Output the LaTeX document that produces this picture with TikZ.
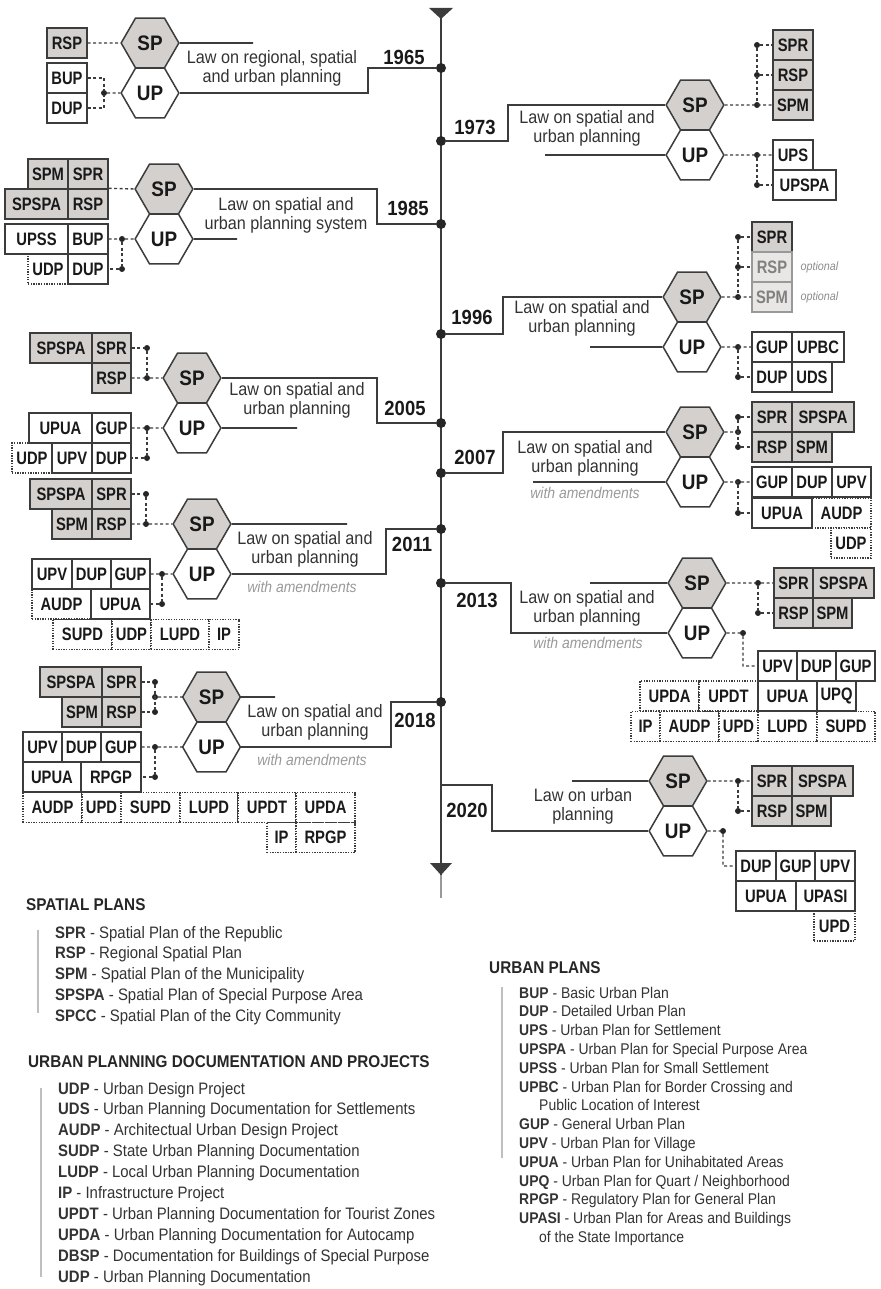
\documentclass[tikz,border=0pt]{standalone}
\usepackage{fontspec}
\setmainfont{Liberation Sans}[FakeStretch=0.9]
\newfontfamily\boxfam{Liberation Sans}[FakeStretch=0.82]
\usetikzlibrary{shapes.geometric}
\definecolor{spgrey}{RGB}{212,208,206}
\definecolor{optgrey}{RGB}{233,231,230}
\definecolor{ink}{RGB}{60,60,60}
\newcommand\bxf{\boxfam\bfseries\fontsize{18}{19}\selectfont}
\newcommand\hxf{\bfseries\fontsize{21}{22}\selectfont}
\newcommand\yrf{\bfseries\fontsize{20.5}{22}\selectfont}
\newcommand\lwf{\fontsize{18}{19}\selectfont}
\newcommand\amf{\itshape\fontsize{15.5}{17}\selectfont}
\newcommand\opf{\itshape\fontsize{12}{13}\selectfont}
\newcommand\lgf{\fontsize{16.6}{18}\selectfont}
\newcommand\lrf{\fontsize{15.5}{17}\selectfont}
\newcommand\lhf{\bfseries\fontsize{17}{18}\selectfont}
\tikzset{
  spbox/.style={draw=ink, fill=spgrey, line width=1.4pt, minimum width=40pt,
    minimum height=30pt, inner sep=0pt, font=\bxf, text=black!90},
  upbox/.style={spbox, fill=white},
  optbox/.style={spbox, fill=optgrey, draw=black!40, text=black!50},
  docbox/.style={upbox, dash pattern=on 1.3pt off 1.3pt, line width=1.2pt},
  hexa/.style={regular polygon, regular polygon sides=6, minimum size=57.7pt,
    inner sep=0pt, draw=ink, line width=1.5pt, font=\hxf, text=black!90},
  sphex/.style={hexa, fill=spgrey},
  uphex/.style={hexa, fill=white},
  tline/.style={draw=ink, line width=2.2pt},
  law/.style={draw=ink, line width=1.7pt},
  dline/.style={draw=ink, line width=1.4pt, dash pattern=on 3pt off 2.5pt},
  jdot/.style={circle, fill=black!85, inner sep=0pt, minimum size=6pt},
  tdot/.style={circle, fill=black!85, inner sep=0pt, minimum size=10pt},
  year/.style={font=\yrf, text=black!90},
  lawtxt/.style={font=\lwf, align=center, text=black!80},
  amend/.style={font=\amf, text=black!40},
  optlbl/.style={font=\opf, text=black!45, anchor=west},
  lhead/.style={font=\lhf, text=black!85, anchor=west, inner sep=0pt},
  lgent/.style={font=\lgf, text=black!80, anchor=base west, inner sep=0pt},
  lrent/.style={font=\lrf, text=black!80, anchor=base west, inner sep=0pt},
  lbar/.style={draw=black!25, line width=1.5pt}
}
\begin{document}
\begin{tikzpicture}[x=1pt, y=-1pt]
  \useasboundingbox (0,0) rectangle (880,1289);
  % time axis
  \draw[tline] (441,8) -- (441,875);
  \draw[black!40, line width=1.6pt] (441,875) -- (441,898);
  \fill[ink] (429,8) -- (453,8) -- (441,19) -- cycle;
  \fill[ink] (430,863) -- (452,863) -- (441,875) -- cycle;
  \node[tdot] (d65) at (441,68) {};
  \node[tdot] (d73) at (441,141) {};
  \node[tdot] (d85) at (441,224) {};
  \node[tdot] (d96) at (441,334) {};
  \node[tdot] (d05) at (441,423) {};
  \node[tdot] (d07) at (441,473) {};
  \node[tdot] (d11) at (441,529) {};
  \node[tdot] (d13) at (441,583) {};
  \node[tdot] (d18) at (441,702) {};
  \coordinate (d20) at (441,785);

  % 1965
  \node[sphex] (sp65) at (150,43) {SP};
  \node[uphex] (up65) at (150,93) {UP};
  \node[spbox] (rsp65) at (67,43) {RSP};
  \node[upbox] (bup65) at (67,78) {BUP};
  \node[upbox] (dup65) at (67,108) {DUP};
  \node[jdot] (j65) at (104,93) {};
  \draw[dline] (rsp65.east) -- (sp65.west);
  \draw[dline] (bup65.east) -| (j65);
  \draw[dline] (dup65.east) -| (j65);
  \draw[dline] (j65) -- (up65.west);
  \coordinate (f65) at (253,43);
  \draw[law] (sp65.east) -- (f65);
  \coordinate (k65) at (368,68);
  \draw[law] (up65.east) -| (k65) -- (d65);
  \node[year] (y65) at (404,57) {1965};
  \node[lawtxt] (l65) at (272,68) {Law on regional, spatial\\and urban planning};

  % 1973
  \node[sphex] (sp73) at (695,105) {SP};
  \node[uphex] (up73) at (695,155) {UP};
  \node[spbox] (spr73) at (793,45) {SPR};
  \node[spbox] (rsp73) at (793,75) {RSP};
  \node[spbox] (spm73) at (793,105) {SPM};
  \node[upbox] (ups73) at (793,155) {UPS};
  \node[upbox, minimum width=63pt] (upspa73) at (804.5,185) {UPSPA};
  \node[jdot] (ja73) at (757,45) {};
  \node[jdot] (jb73) at (757,75) {};
  \node[jdot] (jc73) at (757,105) {};
  \node[jdot] (jd73) at (757,155) {};
  \node[jdot] (je73) at (757,185) {};
  \draw[dline] (ja73) -- (spr73.west);
  \draw[dline] (jb73) -- (rsp73.west);
  \draw[dline] (ja73) -- (jc73);
  \draw[dline] (sp73.east) -- (spm73.west);
  \draw[dline] (up73.east) -- (ups73.west);
  \draw[dline] (jd73) -- (je73) -- (upspa73.west);
  \coordinate (f73) at (545,155);
  \draw[law] (f73) -- (up73.west);
  \coordinate (k73) at (508,141);
  \draw[law] (d73) -- (k73) |- (sp73.west);
  \node[year] (y73) at (475,127) {1973};
  \node[lawtxt] (l73) at (587,128) {Law on spatial and\\urban planning};

  % 1985
  \node[sphex] (sp85) at (164,189) {SP};
  \node[uphex] (up85) at (164,239) {UP};
  \node[spbox] (spm85) at (48,174) {SPM};
  \node[spbox] (spr85) at (88,174) {SPR};
  \node[spbox, minimum width=63pt] (spspa85) at (36.5,204) {SPSPA};
  \node[spbox] (rsp85) at (88,204) {RSP};
  \node[docbox] (udp85) at (48,269) {UDP};
  \node[upbox, minimum width=63pt] (upss85) at (36.5,239) {UPSS};
  \node[upbox] (bup85) at (88,239) {BUP};
  \node[upbox] (dup85) at (88,269) {DUP};
  \node[jdot] (ja85) at (122,239) {};
  \node[jdot] (jb85) at (122,269) {};
  \draw[dline] (rsp85.north east) -- (sp85.west);
  \draw[dline] (bup85.east) -- (ja85) -- (up85.west);
  \draw[dline] (ja85) -- (jb85) -- (dup85.east);
  \coordinate (f85) at (237,239);
  \draw[law] (up85.east) -- (f85);
  \coordinate (k85) at (377,224);
  \draw[law] (sp85.east) -| (k85) -- (d85);
  \node[year] (y85) at (408,208) {1985};
  \node[lawtxt] (l85) at (286,215) {Law on spatial and\\urban planning system};

  % 1996
  \node[sphex] (sp96) at (692,297) {SP};
  \node[uphex] (up96) at (692,347) {UP};
  \node[spbox] (spr96) at (772,237) {SPR};
  \node[optbox] (rsp96) at (772,267) {RSP};
  \node[optbox] (spm96) at (772,297) {SPM};
  \node[optlbl] (oa96) at (797,267) {optional};
  \node[optlbl] (ob96) at (797,297) {optional};
  \node[upbox] (gup96) at (772,347) {GUP};
  \node[upbox, minimum width=52pt] (upbc96) at (818,347) {UPBC};
  \node[upbox] (dup96) at (772,377) {DUP};
  \node[upbox] (uds96) at (812,377) {UDS};
  \node[jdot] (ja96) at (738,237) {};
  \node[jdot] (jb96) at (738,267) {};
  \node[jdot] (jc96) at (738,297) {};
  \node[jdot] (jd96) at (738,347) {};
  \node[jdot] (je96) at (738,377) {};
  \draw[dline] (ja96) -- (spr96.west);
  \draw[dline] (jb96) -- (rsp96.west);
  \draw[dline] (ja96) -- (jc96);
  \draw[dline] (sp96.east) -- (spm96.west);
  \draw[dline] (up96.east) -- (gup96.west);
  \draw[dline] (jd96) -- (je96) -- (dup96.west);
  \coordinate (f96) at (590,347);
  \draw[law] (f96) -- (up96.west);
  \coordinate (k96) at (503,334);
  \draw[law] (d96) -- (k96) |- (sp96.west);
  \node[year] (y96) at (472,317) {1996};
  \node[lawtxt] (l96) at (582,318) {Law on spatial and\\urban planning};

  % 2005
  \node[sphex] (sp05) at (192,378) {SP};
  \node[uphex] (up05) at (192,428) {UP};
  \node[spbox, minimum width=62pt] (spspa05) at (61,348) {SPSPA};
  \node[spbox, minimum width=39pt] (spr05) at (111.5,348) {SPR};
  \node[spbox, minimum width=39pt] (rsp05) at (111.5,378) {RSP};
  \node[docbox] (udp05) at (32,458) {UDP};
  \node[upbox, minimum width=63pt] (upua05) at (60.5,428) {UPUA};
  \node[upbox, minimum width=39pt] (gup05) at (111.5,428) {GUP};
  \node[upbox] (upv05) at (72,458) {UPV};
  \node[upbox, minimum width=39pt] (dup05) at (111.5,458) {DUP};
  \node[jdot] (ja05) at (147,348) {};
  \node[jdot] (jb05) at (147,378) {};
  \node[jdot] (jc05) at (147,428) {};
  \node[jdot] (jd05) at (147,458) {};
  \draw[dline] (spr05.east) -- (ja05) -- (jb05);
  \draw[dline] (rsp05.east) -- (jb05) -- (sp05.west);
  \draw[dline] (gup05.east) -- (jc05) -- (up05.west);
  \draw[dline] (jc05) -- (jd05) -- (dup05.east);
  \coordinate (f05) at (297,428);
  \draw[law] (up05.east) -- (f05);
  \coordinate (k05) at (377,423);
  \draw[law] (sp05.east) -| (k05) -- (d05);
  \node[year] (y05) at (405,408) {2005};
  \node[lawtxt] (l05) at (297,400) {Law on spatial and\\urban planning};

  % 2007
  \node[sphex] (sp07) at (695,432) {SP};
  \node[uphex] (up07) at (695,482) {UP};
  \node[spbox] (spr07) at (772,417) {SPR};
  \node[spbox, minimum width=62pt] (spspa07) at (823,417) {SPSPA};
  \node[spbox] (rsp07) at (772,447) {RSP};
  \node[spbox] (spm07) at (812,447) {SPM};
  \node[docbox, minimum width=59pt] (audp07) at (841.5,513) {AUDP};
  \node[docbox] (udp07) at (851,543) {UDP};
  \node[upbox] (gup07) at (772,482) {GUP};
  \node[upbox] (dup07) at (812,482) {DUP};
  \node[upbox, minimum width=39pt] (upv07) at (851.5,482) {UPV};
  \node[upbox, minimum width=60pt] (upua07) at (782,513) {UPUA};
  \node[jdot] (ja07) at (738,417) {};
  \node[jdot] (jb07) at (738,432) {};
  \node[jdot] (jc07) at (738,447) {};
  \node[jdot] (jd07) at (738,482) {};
  \node[jdot] (je07) at (738,513) {};
  \draw[dline] (ja07) -- (spr07.west);
  \draw[dline] (ja07) -- (jc07) -- (rsp07.west);
  \draw[dline] (sp07.east) -- (jb07);
  \draw[dline] (up07.east) -- (gup07.west);
  \draw[dline] (jd07) -- (je07) -- (upua07.west);
  \coordinate (f07) at (533,482);
  \draw[law] (f07) -- (up07.west);
  \coordinate (k07) at (503,473);
  \draw[law] (d07) -- (k07) |- (sp07.west);
  \node[year] (y07) at (475,457) {2007};
  \node[lawtxt] (l07) at (585,458) {Law on spatial and\\urban planning};
  \node[amend] (a07) at (585,493) {with amendments};

  % 2011
  \node[sphex] (sp11) at (202,524) {SP};
  \node[uphex] (up11) at (202,574) {UP};
  \node[spbox, minimum width=62pt] (spspa11) at (61,494) {SPSPA};
  \node[spbox, minimum width=39pt] (spr11) at (111.5,494) {SPR};
  \node[spbox] (spm11) at (72,524) {SPM};
  \node[spbox, minimum width=39pt] (rsp11) at (111.5,524) {RSP};
  \node[docbox, minimum width=59pt] (audp11) at (61.5,604) {AUDP};
  \node[docbox, minimum width=59pt] (supd11) at (82.5,634.5) {SUPD};
  \node[docbox, minimum width=39pt] (udp11) at (131.5,634.5) {UDP};
  \node[docbox, minimum width=58pt] (lupd11) at (180,634.5) {LUPD};
  \node[docbox, minimum width=30pt] (ip11) at (224,634.5) {IP};
  \node[upbox] (upv11) at (52,574) {UPV};
  \node[upbox, minimum width=39pt] (dup11) at (91.5,574) {DUP};
  \node[upbox, minimum width=39pt] (gup11) at (130.5,574) {GUP};
  \node[upbox, minimum width=59pt] (upua11) at (120.5,604) {UPUA};
  \node[jdot] (ja11) at (146,494) {};
  \node[jdot] (jb11) at (146,524) {};
  \node[jdot] (jc11) at (162,574) {};
  \node[jdot] (jd11) at (162,604) {};
  \draw[dline] (spr11.east) -- (ja11) -- (jb11);
  \draw[dline] (rsp11.east) -- (jb11) -- (sp11.west);
  \draw[dline] (gup11.east) -- (jc11) -- (up11.west);
  \draw[dline] (jc11) -- (jd11) -- (upua11.east);
  \coordinate (f11) at (347,524);
  \draw[law] (sp11.east) -- (f11);
  \coordinate (k11) at (386,529);
  \draw[law] (up11.east) -| (k11) -- (d11);
  \node[year] (y11) at (412,544) {2011};
  \node[lawtxt] (l11) at (305,549) {Law on spatial and\\urban planning};
  \node[amend] (a11) at (302,587) {with amendments};

  % 2013
  \node[sphex] (sp13) at (697,583) {SP};
  \node[uphex] (up13) at (697,633) {UP};
  \node[spbox, minimum width=39pt] (spr13) at (793.5,583) {SPR};
  \node[spbox, minimum width=61pt] (spspa13) at (843.5,583) {SPSPA};
  \node[spbox, minimum width=39pt] (rsp13) at (793.5,613) {RSP};
  \node[spbox, minimum width=39pt] (spm13) at (832.5,613) {SPM};
  \node[docbox, minimum width=59pt] (upda13) at (669.5,696) {UPDA};
  \node[docbox, minimum width=59pt] (updt13) at (728.5,696) {UPDT};
  \node[docbox, minimum width=29pt] (ip13) at (645.5,726.5) {IP};
  \node[docbox, minimum width=59pt] (audp13) at (689.5,726.5) {AUDP};
  \node[docbox, minimum width=39pt] (upd13) at (738.5,726.5) {UPD};
  \node[docbox, minimum width=59pt] (lupd13) at (787.5,726.5) {LUPD};
  \node[docbox, minimum width=58pt] (supd13) at (846,726.5) {SUPD};
  \node[upbox, minimum width=39pt] (upv13) at (777.5,666) {UPV};
  \node[upbox, minimum width=39pt] (dup13) at (816.5,666) {DUP};
  \node[upbox, minimum width=39pt] (gup13) at (855.5,666) {GUP};
  \node[upbox, minimum width=59pt] (upua13) at (787.5,696) {UPUA};
  \node[upbox, minimum width=39pt] (upq13) at (836.5,696) {UPQ};
  \node[jdot] (ja13) at (758,583) {};
  \node[jdot] (jb13) at (758,613) {};
  \node[jdot] (jc13) at (743,633) {};
  \coordinate (c13) at (743,666);
  \draw[dline] (sp13.east) -- (ja13) -- (spr13.west);
  \draw[dline] (ja13) -- (jb13) -- (rsp13.west);
  \draw[dline] (up13.east) -- (jc13) -- (c13) -- (upv13.west);
  \coordinate (f13) at (590,583);
  \draw[law] (f13) -- (sp13.west);
  \coordinate (k13) at (511,583);
  \draw[law] (d13) -- (k13) |- (up13.west);
  \node[year] (y13) at (477,600) {2013};
  \node[lawtxt] (l13) at (587,608) {Law on spatial and\\urban planning};
  \node[amend] (a13) at (588,643) {with amendments};

  % 2018
  \node[sphex] (sp18) at (211.5,697) {SP};
  \node[uphex] (up18) at (211.5,747) {UP};
  \node[spbox, minimum width=62pt] (spspa18) at (71,682) {SPSPA};
  \node[spbox, minimum width=39pt] (spr18) at (121.5,682) {SPR};
  \node[spbox] (spm18) at (82,712) {SPM};
  \node[spbox, minimum width=39pt] (rsp18) at (121.5,712) {RSP};
  \node[docbox, minimum width=59pt] (audp18) at (52.5,807.5) {AUDP};
  \node[docbox, minimum width=39pt] (upd18) at (101.5,807.5) {UPD};
  \node[docbox, minimum width=59pt] (supd18) at (150.5,807.5) {SUPD};
  \node[docbox, minimum width=58pt] (lupd18) at (209,807.5) {LUPD};
  \node[docbox, minimum width=58pt] (updt18) at (267,807.5) {UPDT};
  \node[docbox, minimum width=59pt] (upda18) at (325.5,807.5) {UPDA};
  \node[docbox, minimum width=29pt] (ip18) at (281.5,837.5) {IP};
  \node[docbox, minimum width=59pt] (rpgpb18) at (325.5,837.5) {RPGP};
  \node[upbox, minimum width=39pt] (upv18) at (42.5,747) {UPV};
  \node[upbox, minimum width=39pt] (dup18) at (81.5,747) {DUP};
  \node[upbox] (gup18) at (121,747) {GUP};
  \node[upbox, minimum width=58pt] (upua18) at (52,777) {UPUA};
  \node[upbox, minimum width=60pt] (rpgp18) at (111,777) {RPGP};
  \node[jdot] (ja18) at (155,682) {};
  \node[jdot] (jb18) at (155,697) {};
  \node[jdot] (jc18) at (155,712) {};
  \node[jdot] (jd18) at (155,747) {};
  \node[jdot] (je18) at (155,777) {};
  \draw[dline] (spr18.east) -- (ja18) -- (jc18);
  \draw[dline] (rsp18.east) -- (jc18);
  \draw[dline] (jb18) -- (sp18.west);
  \draw[dline] (gup18.east) -- (jd18) -- (up18.west);
  \draw[dline] (jd18) -- (je18) -- (rpgp18.east);
  \coordinate (f18) at (275,697);
  \draw[law] (sp18.east) -- (f18);
  \coordinate (k18) at (391,702);
  \draw[law] (up18.east) -| (k18) -- (d18);
  \node[year] (y18) at (415,720) {2018};
  \node[lawtxt] (l18) at (315,722) {Law on spatial and\\urban planning};
  \node[amend] (a18) at (312,760) {with amendments};

  % 2020
  \node[sphex] (sp20) at (678,781) {SP};
  \node[uphex] (up20) at (678,831) {UP};
  \node[spbox] (spr20) at (772,781) {SPR};
  \node[spbox, minimum width=61pt] (spspa20) at (822.5,781) {SPSPA};
  \node[spbox] (rsp20) at (772,811) {RSP};
  \node[spbox, minimum width=39pt] (spm20) at (811.5,811) {SPM};
  \node[docbox, minimum width=41pt] (upd20) at (834.5,926) {UPD};
  \node[upbox] (dup20) at (756,866) {DUP};
  \node[upbox, minimum width=39pt] (gup20) at (795.5,866) {GUP};
  \node[upbox] (upv20) at (835,866) {UPV};
  \node[upbox, minimum width=60pt] (upua20) at (766,896) {UPUA};
  \node[upbox, minimum width=59pt] (upasi20) at (825.5,896) {UPASI};
  \node[jdot] (ja20) at (738,781) {};
  \node[jdot] (jb20) at (738,811) {};
  \node[jdot] (jc20) at (723,831) {};
  \coordinate (c20) at (723,866);
  \draw[dline] (sp20.east) -- (ja20) -- (spr20.west);
  \draw[dline] (ja20) -- (jb20) -- (rsp20.west);
  \draw[dline] (up20.east) -- (jc20) -- (c20) -- (dup20.west);
  \coordinate (f20) at (572,781);
  \draw[law] (f20) -- (sp20.west);
  \coordinate (k20) at (492,785);
  \draw[law] (d20) -- (k20) |- (up20.west);
  \node[year] (y20) at (467,810) {2020};
  \node[lawtxt] (l20) at (583,806) {Law on urban\\planning};

  % legend
  \node[lhead] (hsp) at (26,905) {SPATIAL PLANS};
  \draw[lbar] (38,930) -- (38,1013);
  \foreach \ab/\tx [count=\i from 0] in {SPR/Spatial Plan of the Republic,
      RSP/Regional Spatial Plan, SPM/Spatial Plan of the Municipality,
      SPSPA/Spatial Plan of Special Purpose Area,
      SPCC/Spatial Plan of the City Community}
    \node[lgent] (ls\i) at (55,938+20.8*\i) {\textbf{\ab} - \tx};
  \node[lhead] (hdp) at (28,1062) {URBAN PLANNING DOCUMENTATION AND PROJECTS};
  \draw[lbar] (41,1088) -- (41,1277);
  \foreach \ab/\tx [count=\i from 0] in {UDP/Urban Design Project,
      UDS/Urban Planning Documentation for Settlements,
      AUDP/Architectual Urban Design Project,
      SUDP/State Urban Planning Documentation,
      LUDP/Local Urban Planning Documentation,
      IP/Infrastructure Project,
      UPDT/Urban Planning Documentation for Tourist Zones,
      UPDA/Urban Planning Documentation for Autocamp,
      DBSP/Documentation for Buildings of Special Purpose,
      UDP/Urban Planning Documentation}
    \node[lgent] (ld\i) at (58,1094+20.9*\i) {\textbf{\ab} - \tx};
  \node[lhead] (hup) at (489,968) {URBAN PLANS};
  \draw[lbar] (502,987) -- (502,1158);
  \node[lrent] (lu0) at (519,998) {\textbf{BUP} - Basic Urban Plan};
  \node[lrent] (lu1) at (519,1016.8) {\textbf{DUP} - Detailed Urban Plan};
  \node[lrent] (lu2) at (519,1035.6) {\textbf{UPS} - Urban Plan for Settlement};
  \node[lrent] (lu3) at (519,1054.4) {\textbf{UPSPA} - Urban Plan for Special Purpose Area};
  \node[lrent] (lu4) at (519,1073.2) {\textbf{UPSS} - Urban Plan for Small Settlement};
  \node[lrent] (lu5) at (519,1092) {\textbf{UPBC} - Urban Plan for Border Crossing and};
  \node[lrent] (lu6) at (539,1110.8) {Public Location of Interest};
  \node[lrent] (lu7) at (519,1129.6) {\textbf{GUP} - General Urban Plan};
  \node[lrent] (lu8) at (519,1148.4) {\textbf{UPV} - Urban Plan for Village};
  \node[lrent] (lu9) at (519,1167.2) {\textbf{UPUA} - Urban Plan for Unihabitated Areas};
  \node[lrent] (lu10) at (519,1186) {\textbf{UPQ} - Urban Plan for Quart / Neighborhood};
  \node[lrent] (lu11) at (519,1204.8) {\textbf{RPGP} - Regulatory Plan for General Plan};
  \node[lrent] (lu12) at (519,1223.6) {\textbf{UPASI} - Urban Plan for Areas and Buildings};
  \node[lrent] (lu13) at (539,1242.4) {of the State Importance};
\end{tikzpicture}
\end{document}
